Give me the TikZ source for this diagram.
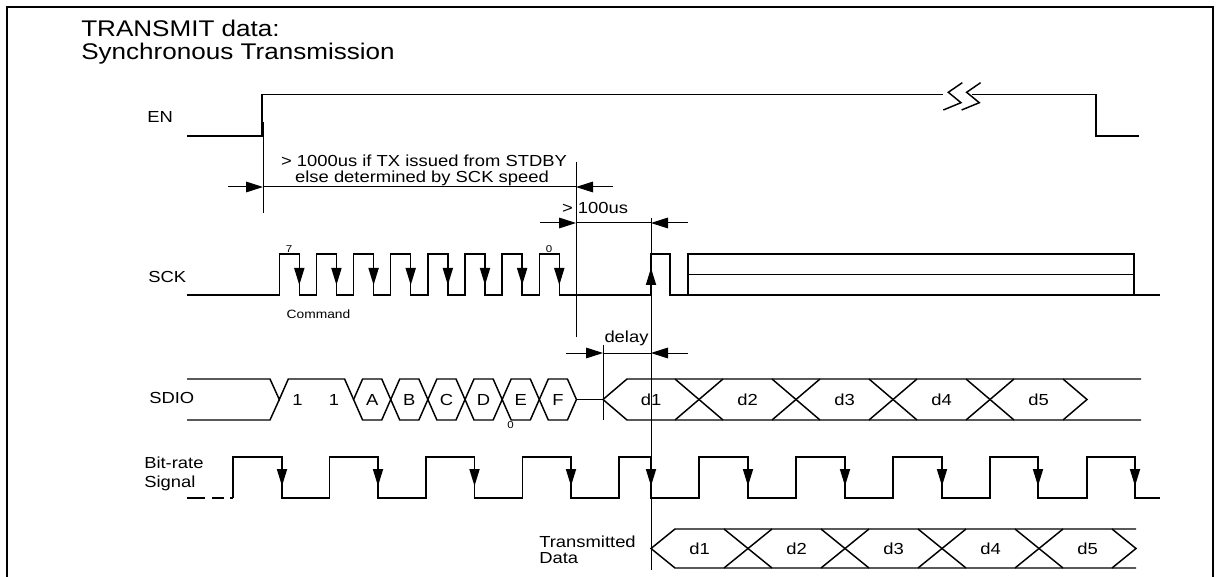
\documentclass[tikz,border=0pt]{standalone}
\usepackage{fontspec}
\setmainfont{Liberation Sans}[FakeStretch=1.15]
\usetikzlibrary{arrows.meta}
\tikzset{
  sig/.style={line width=1.1pt, line join=miter},
  dimln/.style={line width=0.75pt},
  dimarr/.style={dimln, -{Triangle[length=12.75pt,width=8pt]}},
  txt/.style={inner sep=0pt, font=\fontsize{12}{14}\selectfont},
  ttl/.style={inner sep=0pt, font=\fontsize{17}{20}\selectfont},
  smalltxt/.style={inner sep=0pt, font=\fontsize{7.5}{9}\selectfont},
  cmdtxt/.style={inner sep=0pt, font=\fontsize{9}{11}\selectfont},
  arrdn/.pic={\fill (0,0) -- (-5.25,-17) -- (5.25,-17) -- cycle;},
  arrup/.pic={\fill (0,0) -- (-5.25,17) -- (5.25,17) -- cycle;}
}
\begin{document}
\begin{tikzpicture}[x=0.75pt,y=-0.75pt]
\useasboundingbox (0,0) rectangle (1221,577);
% frame
\draw[line width=1.5pt] (7,577) -- (7,7) -- (1213,7) -- (1213,577);
% titles
\node[ttl, anchor=base west] (t1) at (81,37) {TRANSMIT data:};
\node[ttl, anchor=base west] (t2) at (81,60) {Synchronous Transmission};
% signal names
\node[txt, anchor=base west] (en) at (147,123) {EN};
\node[txt, anchor=base west] (sck) at (148,283) {SCK};
\node[txt, anchor=base west] (sdio) at (149,403) {SDIO};
\node[txt, anchor=base west] (br1) at (144,468) {Bit-rate};
\node[txt, anchor=base west] (br2) at (144,487) {Signal};
\node[txt, anchor=base west] (td1) at (539,547) {Transmitted};
\node[txt, anchor=base west] (td2) at (539,563) {Data};
% EN
\draw[sig] (187,136) -- (262,136) -- (262,94.5) -- (943,94.5);
\draw[sig] (972,94.5) -- (1096,94.5) -- (1096,136) -- (1139,136);
\draw[sig] (962.3,82.7) -- (948.3,92.3) -- (961,102.7) -- (943.3,110);
\draw[sig] (980.6,82.7) -- (966.6,92.3) -- (979.3,102.7) -- (961.6,110);
% extension lines
\draw[dimln] (263,122) -- (263,213);
\draw[dimln] (576,162) -- (576,337);
\draw[dimln] (651,218) -- (651,570);
\draw[dimln] (603,345) -- (603,420);
% dimension 1
\node[txt, anchor=base] (d1a) at (424,167) {> 1000us if TX issued from STDBY};
\node[txt, anchor=base] (d1b) at (422,183) {else determined by SCK speed};
\draw[dimarr] (228,187) -- (263,187);
\draw[dimln] (263,187) -- (576,187);
\draw[dimarr] (613,187) -- (576,187);
% dimension 2
\node[txt, anchor=base] (d2t) at (595,214) {> 100us};
\draw[dimarr] (540,223) -- (576,223);
\draw[dimln] (576,223) -- (651,223);
\draw[dimarr] (688,223) -- (651,223);
% delay
\node[txt, anchor=base] (dl) at (626.5,343) {delay};
\draw[dimarr] (566,353) -- (603,353);
\draw[dimln] (603,353) -- (651,353);
\draw[dimarr] (688,353) -- (651,353);
% SCK
\draw[sig] (187,295)
  foreach \k in {0,...,7} { -- ({279.3+\k*37.14},295) -- ({279.3+\k*37.14},254) -- ({299.3+\k*37.14},254) -- ({299.3+\k*37.14},295) }
  -- (651,295) -- (651,254) -- (670,254) -- (670,295) -- (688,295) -- (688,254) -- (1134,254) -- (1134,295) -- (1160,295);
\draw[sig] (688,295) -- (1134,295);
\draw[sig] (688,274.5) -- (1134,274.5);
\foreach \k in {0,...,7} { \pic at ({299.3+\k*37.14},285) {arrdn}; }
\pic at (651,268) {arrup};
\node[smalltxt, anchor=base] (s7) at (289,253) {7};
\node[smalltxt, anchor=base] (s0) at (549,253) {0};
\node[cmdtxt, anchor=base] (cmd) at (318.5,319) {Command};
% SDIO
\draw[sig] (187,379) -- (270,379) -- (279.3,399.5) -- (288.3,379) -- (344.6,379) -- (353.6,399.5);
\draw[sig] (187,420) -- (270,420) -- (279.3,399.5);
\node[txt] (b1) at (297.5,399.5) {1};
\node[txt] (b2) at (334,399.5) {1};
\foreach \k/\t in {0/A,1/B,2/C,3/D,4/E,5/F} {
  \pgfmathsetmacro\L{353.6+\k*37.14}
  \pgfmathsetmacro\R{\L+37.14}
  \draw[sig] (\L,399.5) -- (\L+9,379) -- (\R-9,379) -- (\R,399.5) -- (\R-9,420) -- (\L+9,420) -- cycle;
  \node[txt] (c\t) at ({(\L+\R)/2},399.5) {\t};
}
\node[smalltxt, anchor=base] (e0) at (510.5,428) {0};
\draw[sig] (576.4,399.5) -- (603,399.5);
\draw[sig] (1141,379) -- (627,379) -- (603,399.5) -- (627,420) -- (1141,420);
\foreach \c in {699,796,893,990} {
  \draw[sig] (\c-24,379) -- (\c+24,420);
  \draw[sig] (\c-24,420) -- (\c+24,379);
}
\draw[sig] (1063,379) -- (1087,399.5) -- (1063,420);
\foreach \x/\t in {651/1,747.5/2,844.5/3,941.5/4,1038.5/5} {
  \node[txt] (sd\t) at (\x,399.5) {d\t};
}
% Bit-rate
\draw[line width=2pt] (187,498) -- (205,498);
\draw[line width=2pt] (212,498) -- (224,498);
\draw[line width=2pt] (230,498) -- (233,498);
\draw[sig] (233,498) -- (233,457) -- (282,457) -- (282,498) -- (329.5,498) -- (329.5,457) -- (378,457) -- (378,498)
  -- (426,498) -- (426,457) -- (474.5,457) -- (474.5,498) -- (522.5,498) -- (522.5,457) -- (571,457) -- (571,498)
  -- (619,498) -- (619,457) -- (651,457) -- (651,498) -- (699,498) -- (699,457) -- (748,457) -- (748,498)
  -- (796,498) -- (796,457) -- (845,457) -- (845,498) -- (893,498) -- (893,457) -- (942,457) -- (942,498)
  -- (990,498) -- (990,457) -- (1038,457) -- (1038,498) -- (1087,498) -- (1087,457) -- (1135,457) -- (1135,498) -- (1160,498);
\foreach \x in {282,378,474.5,571,651,748,845,942,1038,1135} { \pic at (\x,486) {arrdn}; }
% Transmitted data
\draw[sig] (1136,529) -- (675,529) -- (651,548.5) -- (675,568) -- (1136,568);
\foreach \c in {748,845,942,1039} {
  \draw[sig] (\c-24,529) -- (\c+24,568);
  \draw[sig] (\c-24,568) -- (\c+24,529);
}
\draw[sig] (1112,529) -- (1136,548.5) -- (1112,568);
\foreach \x/\t in {699.5/1,796.5/2,893.5/3,990.5/4,1087.5/5} {
  \node[txt] (td\t x) at (\x,548.5) {d\t};
}
\end{tikzpicture}
\end{document}
